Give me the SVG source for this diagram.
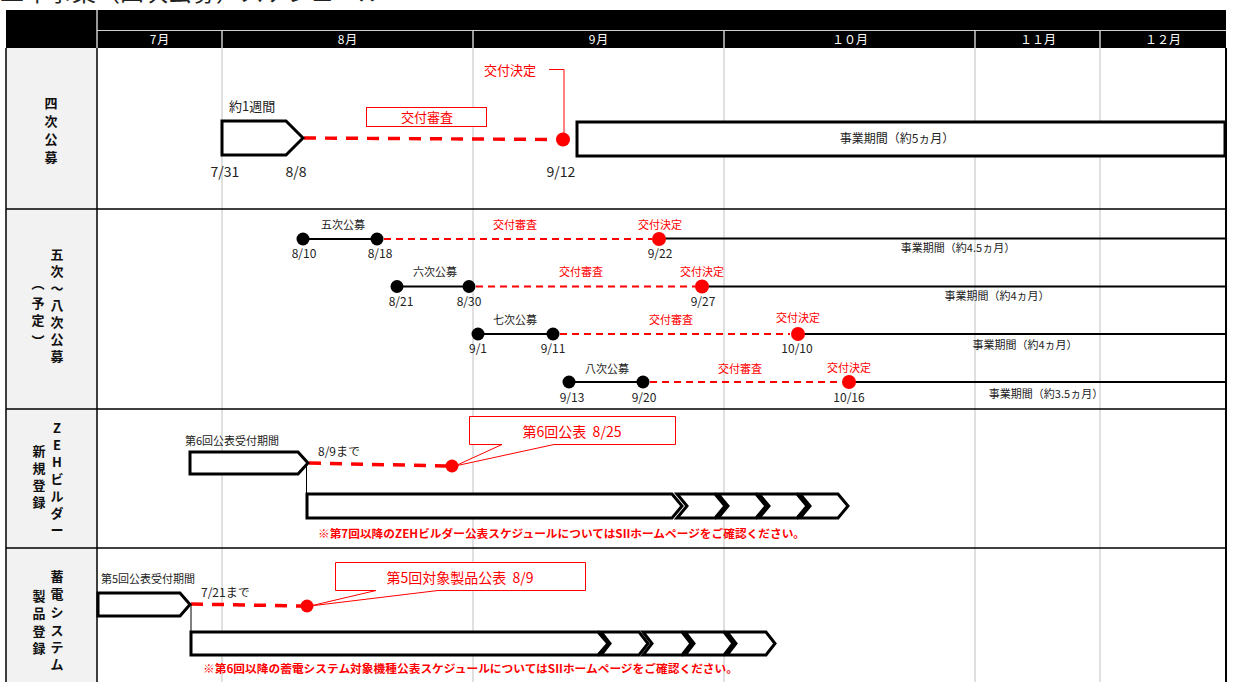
<svg xmlns="http://www.w3.org/2000/svg" width="1233" height="682" viewBox="0 0 1233 682">
<style>
text{font-family:"Noto Sans CJK JP","Noto Sans",sans-serif;}
.k{fill:#222;}
.r{fill:#ff0000;}
.wt{fill:#fff;font-size:12px;text-anchor:middle;}
.lab{font-size:13px;font-weight:bold;fill:#111;text-anchor:middle;}
.grid{stroke:#c0c0c0;stroke-width:1;}
.border{stroke:#000;stroke-width:1.5;fill:none;}
.shape{fill:#fff;stroke:#000;stroke-width:3;stroke-linejoin:miter;}
.dashB{stroke:#ff0000;stroke-width:3.5;stroke-dasharray:12 9;fill:none;}
.dashS{stroke:#ff0000;stroke-width:2;stroke-dasharray:7 5;fill:none;}
.blk{stroke:#000;stroke-width:2;fill:none;}
.thin{stroke:#000;stroke-width:1;fill:none;}
.s11{font-size:11px;}
.s12{font-size:12px;}
.s13{font-size:13px;}
.s14{font-size:14px;}
.mid{text-anchor:middle;}
.callout{fill:#fff;stroke:#ff0000;stroke-width:1;}
</style>

<rect x="0" y="0" width="1233" height="682" fill="#fff"/>
<text x="0" y="1" font-size="24" class="k">二年事業（四次公募）スケジュール</text>

<g id="header">
  <rect x="6" y="10" width="1220" height="38" fill="#000"/>
  <line x1="97" y1="10" x2="97" y2="48" stroke="#fff" stroke-width="1.2"/>
  <line x1="97" y1="30.5" x2="1226" y2="30.5" stroke="#d0d0d0" stroke-width="1.2"/>
  <g stroke="#fff" stroke-width="1.2">
    <line x1="222" y1="31" x2="222" y2="48"/>
    <line x1="473" y1="31" x2="473" y2="48"/>
    <line x1="724" y1="31" x2="724" y2="48"/>
    <line x1="975" y1="31" x2="975" y2="48"/>
    <line x1="1100" y1="31" x2="1100" y2="48"/>
  </g>
  <text class="wt" x="160" y="44" letter-spacing="1">7月</text>
  <text class="wt" x="348" y="44" letter-spacing="1">8月</text>
  <text class="wt" x="599" y="44" letter-spacing="1">9月</text>
  <text class="wt" x="850" y="44">１０月</text>
  <text class="wt" x="1038" y="44">１１月</text>
  <text class="wt" x="1163" y="44">１２月</text>
</g>

<g id="grid">
  <rect x="6" y="48" width="91" height="640" fill="#f2f2f2"/>
  <line class="grid" x1="222" y1="48" x2="222" y2="682"/>
  <line class="grid" x1="473" y1="48" x2="473" y2="682"/>
  <line class="grid" x1="724" y1="48" x2="724" y2="682"/>
  <line class="grid" x1="975" y1="48" x2="975" y2="682"/>
  <line class="grid" x1="1100" y1="48" x2="1100" y2="682"/>
  <line class="border" x1="6" y1="48" x2="6" y2="682"/>
  <line class="border" x1="97" y1="48" x2="97" y2="682"/>
  <line x1="1226" y1="48" x2="1226" y2="682" stroke="#000" stroke-width="2"/>
  <line class="border" x1="6" y1="209" x2="1226" y2="209"/>
  <line class="border" x1="6" y1="409" x2="1226" y2="409"/>
  <line class="border" x1="6" y1="548" x2="1226" y2="548"/>
</g>

<g id="row-labels">
  <g id="label-yoji">
    <text class="lab" x="51" y="108">四</text>
    <text class="lab" x="51" y="126">次</text>
    <text class="lab" x="51" y="144">公</text>
    <text class="lab" x="51" y="162">募</text>
  </g>
  <g id="label-goji">
    <text class="lab" x="57" y="259">五</text>
    <text class="lab" x="57" y="276">次</text>
    <text class="lab" x="57" y="293">～</text>
    <text class="lab" x="57" y="310">八</text>
    <text class="lab" x="57" y="327">次</text>
    <text class="lab" x="57" y="344">公</text>
    <text class="lab" x="57" y="361">募</text>
    <text class="lab" x="38" y="288">︵</text>
    <text class="lab" x="38" y="308">予</text>
    <text class="lab" x="38" y="325">定</text>
    <text class="lab" x="38" y="346">︶</text>
  </g>
  <g id="label-zeh">
    <text class="lab" x="57" y="433">Z</text>
    <text class="lab" x="57" y="450">E</text>
    <text class="lab" x="57" y="467">H</text>
    <text class="lab" x="57" y="484">ビ</text>
    <text class="lab" x="57" y="501">ル</text>
    <text class="lab" x="57" y="518">ダ</text>
    <text class="lab" x="57" y="535">ー</text>
    <text class="lab" x="39" y="456">新</text>
    <text class="lab" x="39" y="473">規</text>
    <text class="lab" x="39" y="490">登</text>
    <text class="lab" x="39" y="507">録</text>
  </g>
  <g id="label-chikuden">
    <text class="lab" x="57" y="581">蓄</text>
    <text class="lab" x="57" y="599">電</text>
    <text class="lab" x="57" y="617">シ</text>
    <text class="lab" x="57" y="635">ス</text>
    <text class="lab" x="57" y="652">テ</text>
    <text class="lab" x="57" y="669">ム</text>
    <text class="lab" x="39" y="601">製</text>
    <text class="lab" x="39" y="618">品</text>
    <text class="lab" x="39" y="636">登</text>
    <text class="lab" x="39" y="653">録</text>
  </g>
</g>

<g id="connectors">
  <line class="dashB" x1="304" y1="138" x2="556" y2="139.5"/>
  <polyline points="549,69.5 564,69.5 564,134" fill="none" stroke="#ff0000" stroke-width="1"/>
  <line class="blk" x1="303" y1="239" x2="377" y2="239"/>
  <line class="dashS" x1="384" y1="239" x2="652" y2="239"/>
  <line class="blk" x1="659" y1="238.5" x2="1226" y2="238.5"/>
  <line class="blk" x1="397" y1="286.5" x2="469" y2="286.5"/>
  <line class="dashS" x1="476" y1="286.5" x2="695" y2="286.5"/>
  <line class="blk" x1="702" y1="286.5" x2="1226" y2="286.5"/>
  <line class="blk" x1="478" y1="334" x2="553" y2="334"/>
  <line class="dashS" x1="560" y1="334" x2="790" y2="334"/>
  <line class="blk" x1="797" y1="334" x2="1226" y2="334"/>
  <line class="blk" x1="569" y1="382" x2="643" y2="382"/>
  <line class="dashS" x1="650" y1="382" x2="841" y2="382"/>
  <line class="blk" x1="848" y1="382" x2="1226" y2="382"/>
  <line class="dashB" x1="309" y1="463" x2="446" y2="466"/>
  <line class="thin" x1="306.5" y1="463" x2="306.5" y2="494"/>
  <line class="dashB" x1="191" y1="604" x2="301" y2="606"/>
  <line class="thin" x1="191" y1="604" x2="191" y2="632"/>
</g>

<g id="node-yoji">
  <text class="k s13" x="229" y="111">約1週間</text>
  <polygon class="shape" points="222,121 286,121 303,138 286,155 222,155"/>
  <text class="k s14 mid" x="225" y="177">7/31</text>
  <text class="k s14 mid" x="296" y="177">8/8</text>
  <rect x="366.5" y="107.5" width="120" height="19" fill="#fff" stroke="#ff0000" stroke-width="1"/>
  <text class="r s13 mid" x="427" y="122">交付審査</text>
  <text class="r s13 mid" x="510" y="75">交付決定</text>
  <circle cx="563" cy="139.5" r="7" fill="#ff0000"/>
  <text class="k s14 mid" x="561" y="177">9/12</text>
  <rect class="shape" x="577" y="122" width="648" height="34"/>
  <text class="k s12 mid" x="897" y="143">事業期間（約5ヵ月）</text>
</g>

<g id="node-goji">
  <circle cx="303" cy="239" r="6.5" fill="#000"/>
  <circle cx="377" cy="239" r="6.5" fill="#000"/>
  <text class="k s11 mid" x="343" y="229">五次公募</text>
  <text class="k s12 mid" x="304" y="258">8/10</text>
  <text class="k s12 mid" x="380" y="258">8/18</text>
  <text class="r s11 mid" x="515" y="229">交付審査</text>
  <text class="r s11 mid" x="660" y="229">交付決定</text>
  <circle cx="659" cy="239" r="7" fill="#ff0000"/>
  <text class="k s12 mid" x="660" y="258">9/22</text>
  <text class="k s11 mid" x="958" y="252">事業期間（約4.5ヵ月）</text>
</g>

<g id="node-rokuji">
  <circle cx="397" cy="286.5" r="6.5" fill="#000"/>
  <circle cx="469" cy="286.5" r="6.5" fill="#000"/>
  <text class="k s11 mid" x="435" y="276">六次公募</text>
  <text class="k s12 mid" x="401" y="306">8/21</text>
  <text class="k s12 mid" x="469" y="306">8/30</text>
  <text class="r s11 mid" x="581" y="276">交付審査</text>
  <text class="r s11 mid" x="702" y="276">交付決定</text>
  <circle cx="702" cy="286.5" r="7" fill="#ff0000"/>
  <text class="k s12 mid" x="703" y="306">9/27</text>
  <text class="k s11 mid" x="997" y="300">事業期間（約4ヵ月）</text>
</g>

<g id="node-nanaji">
  <circle cx="478" cy="334" r="6.5" fill="#000"/>
  <circle cx="553" cy="334" r="6.5" fill="#000"/>
  <text class="k s11 mid" x="515" y="324">七次公募</text>
  <text class="k s12 mid" x="478" y="353">9/1</text>
  <text class="k s12 mid" x="553" y="353">9/11</text>
  <text class="r s11 mid" x="671" y="324">交付審査</text>
  <text class="r s11 mid" x="798" y="322">交付決定</text>
  <circle cx="798" cy="334" r="7" fill="#ff0000"/>
  <text class="k s12 mid" x="797" y="353">10/10</text>
  <text class="k s11 mid" x="1025" y="349">事業期間（約4ヵ月）</text>
</g>

<g id="node-hachiji">
  <circle cx="569" cy="382" r="6.5" fill="#000"/>
  <circle cx="643" cy="382" r="6.5" fill="#000"/>
  <text class="k s11 mid" x="607" y="373">八次公募</text>
  <text class="k s12 mid" x="572" y="402">9/13</text>
  <text class="k s12 mid" x="644" y="402">9/20</text>
  <text class="r s11 mid" x="740" y="373">交付審査</text>
  <text class="r s11 mid" x="849" y="372">交付決定</text>
  <circle cx="849" cy="382" r="7" fill="#ff0000"/>
  <text class="k s12 mid" x="849" y="402">10/16</text>
  <text class="k s11 mid" x="1046" y="398">事業期間（約3.5ヵ月）</text>
</g>

<g id="node-zeh">
  <text class="k s11" x="185" y="445">第6回公表受付期間</text>
  <polygon class="shape" points="190,452 298,452 308,463 298,474 190,474"/>
  <text class="k s12" x="318" y="456">8/9まで</text>
  <circle cx="452" cy="466" r="6.5" fill="#ff0000"/>
  <path class="callout" d="M469.5,416.5 H675.5 V444.5 H554 L455,466 L502,444.5 H469.5 Z"/>
  <text class="r s14 mid" x="572" y="437">第6回公表&#160;&#160;8/25</text>
  <polygon class="shape" points="307,494 672,494 682,506 672,518 307,518"/>
  <polygon class="shape" points="677,494 715,494 725,506 715,518 677,518 687,506"/>
  <polygon class="shape" points="718,494 756,494 766,506 756,518 718,518 728,506"/>
  <polygon class="shape" points="759,494 797,494 807,506 797,518 759,518 769,506"/>
  <polygon class="shape" points="800,494 838,494 848,506 838,518 800,518 810,506"/>
  <text class="r s11" x="318" y="538" font-weight="bold" textLength="487" lengthAdjust="spacingAndGlyphs">※第7回以降のZEHビルダー公表スケジュールについてはSIIホームページをご確認ください。</text>
</g>

<g id="node-chikuden">
  <text class="k s11" x="101" y="583">第5回公表受付期間</text>
  <polygon class="shape" points="98,593 180,593 190,604.5 180,616 98,616"/>
  <text class="k s12" x="201" y="597">7/21まで</text>
  <circle cx="307" cy="606" r="6.5" fill="#ff0000"/>
  <path class="callout" d="M335.5,562.5 H585.5 V590.5 H438 L310,606 L376,590.5 H335.5 Z"/>
  <text class="r s14 mid" x="460" y="583">第5回対象製品公表&#160;&#160;8/9</text>
  <polygon class="shape" points="191,632 598,632 608,643.5 598,655 191,655"/>
  <polygon class="shape" points="601,632 639,632 648,643.5 639,655 601,655 610,643.5"/>
  <polygon class="shape" points="643,632 682,632 691,643.5 682,655 643,655 652,643.5"/>
  <polygon class="shape" points="685,632 724,632 733,643.5 724,655 685,655 694,643.5"/>
  <polygon class="shape" points="727,632 766,632 775,643.5 766,655 727,655 736,643.5"/>
  <text class="r s11" x="203" y="673" font-weight="bold" textLength="535" lengthAdjust="spacingAndGlyphs">※第6回以降の蓄電システム対象機種公表スケジュールについてはSIIホームページをご確認ください。</text>
</g>
</svg>
